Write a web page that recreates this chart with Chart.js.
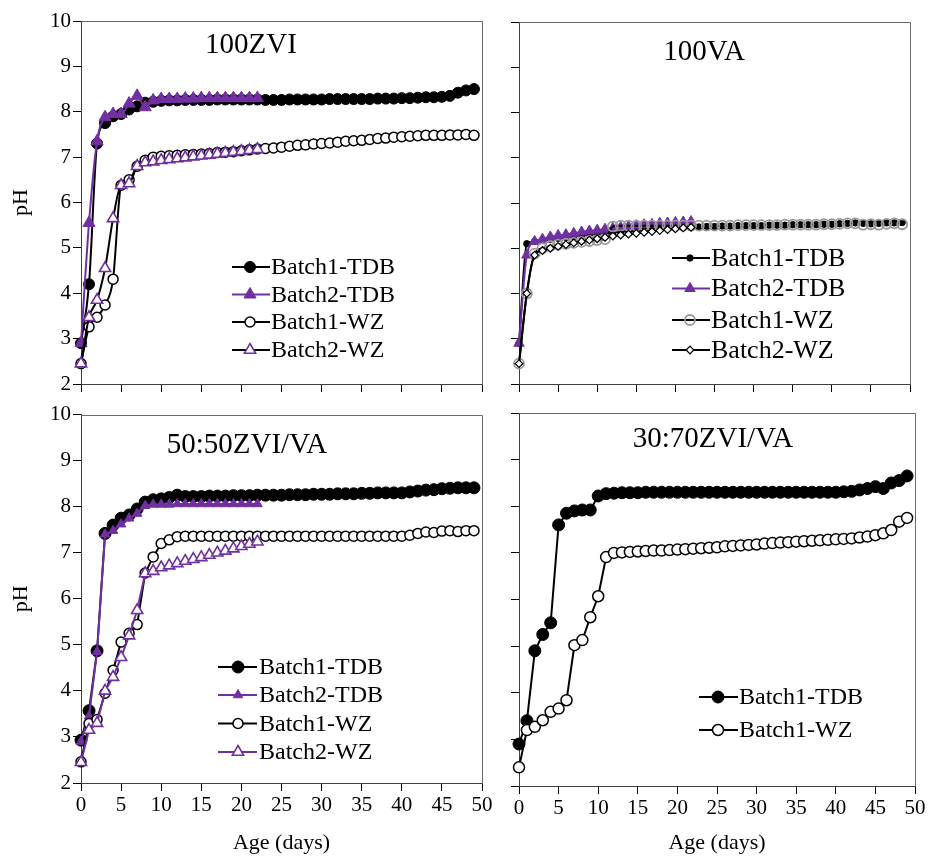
<!DOCTYPE html>
<html><head><meta charset="utf-8">
<script src="https://cdn.jsdelivr.net/npm/chart.js@4.4.1/dist/chart.umd.min.js"></script>
<style>
html,body{margin:0;padding:0;background:#fff;}
#wrap{position:relative;width:930px;height:860px;overflow:hidden;background:#fff;}
canvas{position:absolute;}
</style></head><body>
<div id="wrap">
<canvas id="c1" width="500" height="400" style="left:0px;top:0px;width:500px;height:400px"></canvas>
<canvas id="c2" width="430" height="400" style="left:500px;top:0px;width:430px;height:400px"></canvas>
<canvas id="c3" width="500" height="460" style="left:0px;top:400px;width:500px;height:460px"></canvas>
<canvas id="c4" width="430" height="460" style="left:500px;top:400px;width:430px;height:460px"></canvas>
</div>
<script>
// ---------------- DATA ----------------
const panelTitles = ['100ZVI', '100VA', '50:50ZVI/VA', '30:70ZVI/VA'];
const seriesNames = ['Batch1-TDB', 'Batch2-TDB', 'Batch1-WZ', 'Batch2-WZ'];
const xTicks = [0, 5, 10, 15, 20, 25, 30, 35, 40, 45, 50];
const yTicks = [2, 3, 4, 5, 6, 7, 8, 9, 10];
const xTitle = 'Age (days)';
const yTitle = 'pH';

const daysLong = [0,1,2,3,4,5,6,7,8,9,10,11,12,13,14,15,16,17,18,19,20,21,22,23,24,25,26,27,28,29,30,31,32,33,34,35,36,37,38,39,40,41,42,43,44,45,46,47,48,49];
const daysShort = [0,1,2,3,4,5,6,7,8,9,10,11,12,13,14,15,16,17,18,19,20,21,22];

// 100ZVI
const zvi_TDB1 = [2.9,4.2,7.3,7.75,7.9,7.95,8.05,8.12,8.2,8.22, 8.24,8.25,8.25,8.26,8.26,8.26,8.26,8.27,8.27,8.27, 8.27,8.27,8.27,8.26,8.26,8.26,8.27,8.27,8.27,8.27, 8.27,8.28,8.28,8.28,8.28,8.28,8.28,8.29,8.29,8.29, 8.3,8.3,8.31,8.32,8.32,8.33,8.35,8.42,8.47,8.5];
const zvi_TDB2 = [2.9,5.55,7.35,7.88,7.95,7.95,8.18,8.35,8.1,8.25, 8.28,8.28,8.28,8.29,8.29,8.3,8.3,8.3,8.3,8.3, 8.3,8.3,8.3];
const zvi_WZ1 = [2.45,3.26,3.47,3.74,4.31,6.38,6.5,6.8,6.93,7.0, 7.02,7.03,7.04,7.05,7.06,7.07,7.08,7.1,7.11,7.12, 7.14,7.16,7.18,7.19,7.2,7.22,7.24,7.26,7.27,7.29, 7.3,7.31,7.33,7.35,7.36,7.37,7.39,7.41,7.42,7.44, 7.45,7.46,7.47,7.48,7.48,7.48,7.49,7.49,7.5,7.48];
const zvi_WZ2 = [2.45,3.47,3.85,4.55,5.65,6.38,6.42,6.8,6.88,6.9, 6.93,6.95,6.97,6.99,7.01,7.03,7.05,7.07,7.09,7.11, 7.13,7.15,7.17];

// 100VA
const va_TDB1 = [2.9,5.1,5.15,5.18,5.2,5.22,5.24,5.26,5.28,5.3, 5.32,5.34,5.35,5.36,5.38,5.39,5.4,5.41,5.42,5.43, 5.44,5.45,5.46,5.47,5.48,5.48,5.49,5.49,5.5,5.5, 5.5,5.5,5.51,5.51,5.51,5.52,5.52,5.52,5.52,5.53, 5.53,5.54,5.55,5.56,5.55,5.54,5.55,5.56,5.56,5.57];
const va_TDB2 = [2.9,4.85,5.15,5.2,5.25,5.28,5.3,5.33,5.36,5.38, 5.4,5.42,5.44,5.46,5.48,5.5,5.52,5.53,5.55,5.56, 5.57,5.58,5.59];
const va_WZ1 = [2.45,4.0,4.88,5.0,5.05,5.08,5.1,5.12,5.14,5.16, 5.18,5.2,5.48,5.5,5.5,5.5,5.5,5.5,5.5,5.5, 5.5,5.5,5.5,5.5,5.5,5.5,5.5,5.5,5.51,5.51, 5.51,5.51,5.51,5.51,5.52,5.52,5.52,5.52,5.52,5.53, 5.53,5.54,5.55,5.55,5.52,5.53,5.52,5.54,5.55,5.53];
const va_WZ2 = [2.45,4.0,4.85,4.95,5.0,5.04,5.08,5.12,5.15,5.18, 5.21,5.24,5.27,5.29,5.31,5.33,5.35,5.37,5.39,5.41, 5.43,5.45,5.46];

// 50:50ZVI/VA
const m50_TDB1 = [2.93,3.57,4.87,7.42,7.6,7.75,7.82,7.95,8.1,8.15, 8.17,8.2,8.25,8.22,8.22,8.22,8.23,8.23,8.23,8.24, 8.24,8.24,8.25,8.25,8.25,8.25,8.26,8.26,8.26,8.27, 8.27,8.27,8.28,8.28,8.28,8.29,8.29,8.3,8.3,8.3, 8.3,8.32,8.34,8.36,8.37,8.39,8.4,8.41,8.41,8.41];
const m50_TDB2 = [2.9,3.45,4.85,7.4,7.48,7.62,7.75,7.85,8.02,8.05, 8.05,8.05,8.06,8.06,8.06,8.06,8.06,8.06,8.06,8.06, 8.06,8.06,8.06];
const m50_WZ1 = [2.46,3.29,3.38,3.95,4.45,5.06,5.25,5.44,6.56,6.91, 7.2,7.28,7.35,7.36,7.36,7.36,7.36,7.36,7.36,7.36, 7.36,7.36,7.36,7.36,7.36,7.36,7.36,7.36,7.36,7.36, 7.36,7.36,7.36,7.36,7.36,7.36,7.36,7.36,7.36,7.36, 7.36,7.38,7.42,7.45,7.44,7.47,7.48,7.46,7.48,7.48];
const m50_WZ2 = [2.45,3.15,3.3,4.0,4.3,4.73,5.2,5.75,6.55,6.6, 6.68,6.72,6.77,6.82,6.86,6.9,6.95,7.0,7.04,7.09, 7.14,7.19,7.24];

// 30:70ZVI/VA
const m30_TDB1 = [2.9,3.4,4.9,5.25,5.5,7.6,7.85,7.9,7.92,7.92, 8.22,8.27,8.28,8.29,8.29,8.29,8.3,8.3,8.3,8.3, 8.3,8.3,8.3,8.3,8.3,8.3,8.3,8.3,8.3,8.3, 8.3,8.3,8.3,8.3,8.3,8.3,8.3,8.3,8.3,8.3, 8.3,8.31,8.32,8.35,8.38,8.42,8.38,8.5,8.55,8.65];
const m30_WZ1 = [2.4,3.2,3.27,3.41,3.59,3.66,3.84,5.02,5.13,5.62, 6.07,6.91,7.0,7.01,7.02,7.03,7.04,7.05,7.05,7.06, 7.07,7.08,7.09,7.1,7.11,7.12,7.14,7.15,7.16,7.17, 7.18,7.2,7.21,7.22,7.23,7.24,7.25,7.26,7.27,7.28, 7.29,7.3,7.31,7.33,7.35,7.38,7.42,7.49,7.67,7.75];

// ---------------- STYLE ----------------
const FONT = "'Liberation Serif', 'Times New Roman', serif";
const PURPLE = '#7030A0';
const BLACK = '#000000';

function pts(days, vals) { return days.map((d, i) => ({ x: d, y: vals[i] })); }

function ds(label, days, vals, mk, lineColor, order, smooth) {
  return {
    label: label,
    data: pts(days, vals),
    borderColor: lineColor,
    borderWidth: 2,
    fill: false,
    showLine: true,
    clip: false,
    order: order,
    cubicInterpolationMode: smooth ? 'monotone' : 'default',
    tension: 0,
    pointStyle: mk.style,
    pointRadius: mk.r,
    pointHoverRadius: mk.r,
    pointBackgroundColor: mk.fill,
    pointBorderColor: mk.stroke,
    pointBorderWidth: mk.bw,
    _mk: mk
  };
}

function drawMarker(ctx, m, x, y) {
  ctx.save();
  ctx.beginPath();
  const r = m.r;
  if (m.style === 'circle') {
    ctx.arc(x, y, r, 0, Math.PI * 2);
  } else if (m.style === 'triangle') {
    for (let k = 0; k < 3; k++) {
      const a = k * 2 * Math.PI / 3;
      const px = x + Math.sin(a) * r, py = y - Math.cos(a) * r;
      if (k === 0) ctx.moveTo(px, py); else ctx.lineTo(px, py);
    }
    ctx.closePath();
  } else if (m.style === 'rectRot') {
    ctx.moveTo(x - r, y); ctx.lineTo(x, y - r); ctx.lineTo(x + r, y); ctx.lineTo(x, y + r);
    ctx.closePath();
  }
  if (m.fill && m.fill !== 'transparent') { ctx.fillStyle = m.fill; ctx.fill(); }
  ctx.lineWidth = m.bw; ctx.strokeStyle = m.stroke; ctx.stroke();
  ctx.restore();
}

const deco = {
  id: 'deco',
  beforeDatasetsDraw(chart) {
    const a = chart.chartArea, ctx = chart.ctx;
    ctx.save();
    ctx.strokeStyle = '#6a6a6a';
    ctx.lineWidth = 1;
    ctx.beginPath();
    ctx.moveTo(Math.round(a.left) + 0.5, Math.round(a.top) + 0.5);
    ctx.lineTo(Math.round(a.right) + 0.5, Math.round(a.top) + 0.5);
    ctx.lineTo(Math.round(a.right) + 0.5, Math.round(a.bottom) + 0.5);
    ctx.stroke();
    ctx.restore();
  },
  afterDraw(chart) {
    const o = chart.options.plugins.deco;
    if (!o) return;
    const ctx = chart.ctx;
    const ox = o.offX, oy = o.offY;
    ctx.save();
    ctx.fillStyle = '#000';
    ctx.font = o.titleSize + 'px ' + FONT;
    ctx.textAlign = 'center';
    ctx.textBaseline = 'middle';
    ctx.fillText(o.title, o.titleX - ox, o.titleY - oy);
    const L = o.legend;
    ctx.font = L.size + 'px ' + FONT;
    ctx.textAlign = 'left';
    chart.data.datasets.forEach((d, i) => {
      const y = L.ys[i] - oy;
      ctx.strokeStyle = d.borderColor;
      ctx.lineWidth = 2;
      ctx.beginPath();
      ctx.moveTo(L.x1 - ox, y); ctx.lineTo(L.x2 - ox, y);
      ctx.stroke();
      drawMarker(ctx, d._mk, L.mx - ox, y);
      ctx.fillStyle = '#000';
      ctx.fillText(d.label, L.tx - ox, y + 1);
    });
    ctx.restore();
  }
};

function opts(p) {
  return {
    responsive: false,
    maintainAspectRatio: false,
    animation: false,
    devicePixelRatio: 1,
    events: [],
    layout: { padding: { left: 0, top: p.padTop, right: p.padRight, bottom: 0 } },
    plugins: {
      legend: { display: false },
      tooltip: { enabled: false },
      deco: p.deco
    },
    scales: {
      x: {
        type: 'linear', min: xTicks[0], max: xTicks[xTicks.length - 1],
        afterBuildTicks(s) { s.ticks = xTicks.map(v => ({ value: v })); },
        ticks: { display: p.xLabels, font: { family: FONT, size: 21 }, color: '#000', padding: 2, maxRotation: 0, autoSkip: false },
        grid: { drawOnChartArea: false, drawTicks: true, tickLength: 8, color: '#000', lineWidth: 1 },
        border: { display: true, color: '#404040', width: 1 },
        title: { display: p.xLabels, text: xTitle, font: { family: FONT, size: 22 }, color: '#000', padding: { top: 0, bottom: 4 } },
        afterFit(s) { s.height = p.xH; }
      },
      y: {
        type: 'linear', min: yTicks[0], max: yTicks[yTicks.length - 1],
        afterBuildTicks(s) { s.ticks = yTicks.map(v => ({ value: v })); },
        ticks: { display: p.yLabels, font: { family: FONT, size: 21 }, color: '#000', padding: 2, autoSkip: false },
        grid: { drawOnChartArea: false, drawTicks: true, tickLength: 8, color: '#000', lineWidth: 1 },
        border: { display: true, color: '#404040', width: 1 },
        title: { display: p.yLabels, text: yTitle, font: { family: FONT, size: 22 }, color: '#000', padding: { top: 8, bottom: 0 } },
        afterFit(s) { s.width = p.yW; }
      }
    }
  };
}

// markers
const mFilledCircle = (r) => ({ style: 'circle', r: r, fill: BLACK, stroke: BLACK, bw: 1 });
const mOpenCircle = (r, c) => ({ style: 'circle', r: r, fill: '#ffffff', stroke: c || BLACK, bw: 1.5 });
const mFilledTri = (r) => ({ style: 'triangle', r: r, fill: PURPLE, stroke: PURPLE, bw: 1 });
const mOpenTri = (r) => ({ style: 'triangle', r: r, fill: '#ffffff', stroke: PURPLE, bw: 1.6 });

// Panel 1: 100ZVI
new Chart(document.getElementById('c1'), {
  type: 'line',
  data: { datasets: [
    ds(seriesNames[0], daysLong, zvi_TDB1, mFilledCircle(5.5), BLACK, 4, true),
    ds(seriesNames[1], daysShort, zvi_TDB2, mFilledTri(7), PURPLE, 3, true),
    ds(seriesNames[2], daysLong, zvi_WZ1, mOpenCircle(5), BLACK, 2, true),
    ds(seriesNames[3], daysShort, zvi_WZ2, mOpenTri(6.5), BLACK, 1, true)
  ]},
  options: opts({ padTop: 21, padRight: 18, yW: 81, xH: 16, xLabels: false, yLabels: true,
    deco: { offX: 0, offY: 0, title: panelTitles[0], titleSize: 29, titleX: 251, titleY: 45,
      legend: { size: 24, x1: 232, x2: 270, mx: 250, tx: 271, ys: [267, 294.5, 322, 350] } } }),
  plugins: [deco]
});

// Panel 2: 100VA
new Chart(document.getElementById('c2'), {
  type: 'line',
  data: { datasets: [
    ds(seriesNames[0], daysLong, va_TDB1, mFilledCircle(3.2), BLACK, 4, true),
    ds(seriesNames[1], daysShort, va_TDB2, mFilledTri(6), PURPLE, 3, true),
    ds(seriesNames[2], daysLong, va_WZ1, { style: 'circle', r: 5, fill: 'transparent', stroke: '#9a9a9a', bw: 1.8 }, BLACK, 2, true),
    ds(seriesNames[3], daysShort, va_WZ2, { style: 'rectRot', r: 3.8, fill: '#ffffff', stroke: BLACK, bw: 1.2 }, BLACK, 1, true)
  ]},
  options: opts({ padTop: 22, padRight: 20, yW: 19, xH: 16, xLabels: false, yLabels: false,
    deco: { offX: 500, offY: 0, title: panelTitles[1], titleSize: 29, titleX: 704, titleY: 52,
      legend: { size: 26, x1: 672, x2: 710, mx: 690, tx: 711, ys: [258, 288.5, 320, 350] } } }),
  plugins: [deco]
});

// Panel 3: 50:50ZVI/VA
new Chart(document.getElementById('c3'), {
  type: 'line',
  data: { datasets: [
    ds(seriesNames[0], daysLong, m50_TDB1, mFilledCircle(6), BLACK, 4, false),
    ds(seriesNames[1], daysShort, m50_TDB2, mFilledTri(5.5), PURPLE, 3, false),
    ds(seriesNames[2], daysLong, m50_WZ1, mOpenCircle(5), BLACK, 2, false),
    ds(seriesNames[3], daysShort, m50_WZ2, mOpenTri(6.5), PURPLE, 1, false)
  ]},
  options: opts({ padTop: 13, padRight: 18, yW: 81, xH: 77, xLabels: true, yLabels: true,
    deco: { offX: 0, offY: 400, title: panelTitles[2], titleSize: 29, titleX: 247, titleY: 445,
      legend: { size: 24, x1: 218, x2: 257, mx: 238, tx: 259, ys: [667, 695, 723.5, 752] } } }),
  plugins: [deco]
});

// Panel 4: 30:70ZVI/VA
new Chart(document.getElementById('c4'), {
  type: 'line',
  data: { datasets: [
    ds(seriesNames[0], daysLong, m30_TDB1, mFilledCircle(6), BLACK, 2, false),
    ds(seriesNames[2], daysLong, m30_WZ1, mOpenCircle(5.5), BLACK, 1, false)
  ]},
  options: opts({ padTop: 13, padRight: 15, yW: 19, xH: 74, xLabels: true, yLabels: false,
    deco: { offX: 500, offY: 400, title: panelTitles[3], titleSize: 29, titleX: 713, titleY: 439,
      legend: { size: 24, x1: 699, x2: 738, mx: 718, tx: 739, ys: [697, 730] } } }),
  plugins: [deco]
});
</script>
</body></html>
